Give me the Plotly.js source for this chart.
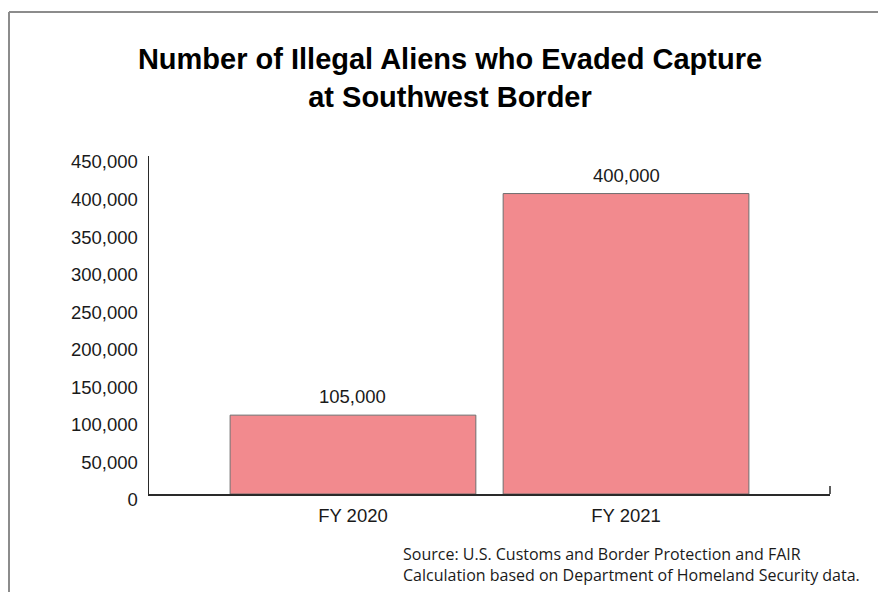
<!DOCTYPE html>
<html>
<head>
<meta charset="utf-8">
<script src="https://cdn.plot.ly/plotly-3.0.1.min.js"></script>
<style>
  html, body { margin: 0; padding: 0; background: #fff; }
  #chart { width: 878px; height: 592px; }
</style>
</head>
<body>
<div id="chart"></div>
<script>
var categories = ["FY 2020", "FY 2021"];
var evadedCounts = [105000, 400000];
var valueLabels = ["105,000", "400,000"];
var yTickValues = [0, 50000, 100000, 150000, 200000, 250000, 300000, 350000, 400000, 450000];
var yTickLabels = ["0", "50,000", "100,000", "150,000", "200,000", "250,000", "300,000", "350,000", "400,000", "450,000"];
var titleText = "Number of Illegal Aliens who Evaded Capture<br>at Southwest Border";
var sourceLines = ["Source: U.S. Customs and Border Protection and FAIR", "Calculation based on Department of Homeland Security data."];

var trace = {
  type: "bar",
  x: categories,
  y: evadedCounts,
  width: 0.9,
  marker: { color: "#F28A8E", line: { color: "#6f6f6f", width: 1 } },
  hoverinfo: "skip"
};

var annotations = categories.map(function (c, i) {
  return {
    x: c, y: evadedCounts[i], xref: "x", yref: "y",
    text: valueLabels[i], showarrow: false,
    yanchor: "bottom", yshift: 6,
    font: { family: "Liberation Sans, Arial, sans-serif", size: 18.5, color: "#1a1a1a" }
  };
});
annotations.push({
  xref: "paper", yref: "paper", x: (401 - 149) / 681, y: (494 - 541) / 338,
  xanchor: "left", yanchor: "top", align: "left",
  text: sourceLines.join("<br>"), showarrow: false,
  font: { family: "Open Sans, Noto Sans, sans-serif", size: 16, color: "#1a1a1a" }
});

var layout = {
  width: 878, height: 592,
  margin: { l: 149, r: 48, t: 156, b: 98, pad: 0 },
  paper_bgcolor: "#fff", plot_bgcolor: "#fff",
  showlegend: false,
  title: {
    text: titleText,
    font: { family: "Liberation Sans, Arial, sans-serif", size: 29, color: "#000", weight: "bold" },
    x: 450 / 878, xref: "container", xanchor: "center",
    y: 1 - 69 / 592, yref: "container", yanchor: "top"
  },
  xaxis: {
    type: "category",
    range: [-0.747, 1.747],
    showline: true, linecolor: "#2a2a2a", linewidth: 1.5,
    ticks: "", showgrid: false, zeroline: false,
    tickfont: { family: "Liberation Sans, Arial, sans-serif", size: 18.5, color: "#1a1a1a" },
    ticklabelstandoff: 4
  },
  yaxis: {
    range: [0, 450000],
    tickvals: yTickValues, ticktext: yTickLabels,
    showline: true, linecolor: "#2a2a2a", linewidth: 1.5,
    ticks: "", showgrid: false, zeroline: false,
    tickfont: { family: "Liberation Sans, Arial, sans-serif", size: 18.5, color: "#1a1a1a" },
    ticklabelstandoff: 6, ticklabelshift: 6
  },
  annotations: annotations,
  shapes: [
    { type: "line", xref: "paper", yref: "paper", x0: 1, x1: 1, y0: 0, y1: 8 / 338,
      line: { color: "#2a2a2a", width: 1.5 } },
    { type: "line", xref: "paper", yref: "paper", x0: (9 - 149) / 681, x1: 1.3, y0: (494 - 12) / 338, y1: (494 - 12) / 338,
      line: { color: "#8c8c8c", width: 2 } },
    { type: "line", xref: "paper", yref: "paper", x0: (9 - 149) / 681, x1: (9 - 149) / 681, y0: (494 - 12) / 338, y1: -0.5,
      line: { color: "#8c8c8c", width: 2 } }
  ]
};

Plotly.newPlot("chart", [trace], layout, { displayModeBar: false, staticPlot: true });
</script>
</body>
</html>
